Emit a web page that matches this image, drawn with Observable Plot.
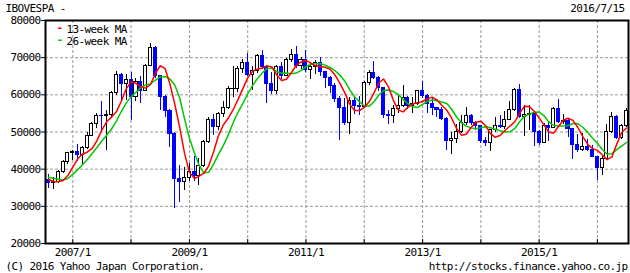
<!DOCTYPE html>
<html><head><meta charset="utf-8">
<script src="https://cdn.jsdelivr.net/npm/d3@7"></script>
<script src="https://cdn.jsdelivr.net/npm/@observablehq/plot@0.6"></script>
<style>body{margin:0;background:#fff} svg{display:block}</style>
</head><body><div id="chart"></div>
<script>
// Monthly candles, Aug 2006 .. Jul 2016 (to 2016/7/15)
const firstMonth = [2006, 7]; // year, month index (Aug)
const monthCount = 120;
const open = [37077,36232,36449,39262,41932,
 44473,44642,43892,45804,48956,52268,54392,54182,54637,60465,65317,63006,
 63886,59490,63489,60968,67868,72593,65017,59505,55680,49541,37257,36596,
 37550,39301,38183,40926,47290,53198,51465,54766,56489,61518,61546,67044,
 68588,65402,66503,70372,67530,63046,60936,67515,65145,69430,70673,67705,
 69305,66575,67383,68587,66133,64620,62404,58823,56495,52324,58338,56875,
 56754,63072,65812,64511,61820,54490,54355,56097,57061,59176,57068,57475,
 60952,59761,57424,56352,55910,53506,47457,48234,50008,52338,54256,52482,
 51507,47639,47094,50415,51627,51239,53168,55829,61288,54116,54629,54724,
 50007,46908,51583,51150,56229,52760,53081,50865,46626,45059,45869,45120,
 43350,40406,42794,50055,53911,48472,51527];
const high = [38500,37800,39600,42300,44600,
 45000,46600,46100,49800,52500,55000,58300,55900,60800,66400,65800,65500,
 66000,64300,65000,68100,73900,73000,65300,59900,56000,50000,41100,40500,
 41500,43500,42900,47800,53800,54800,55200,58300,62200,67500,67600,69500,
 71000,67500,70800,71900,68000,65900,67900,68800,69800,72200,73100,70000,
 72000,68400,69300,70000,66200,64900,63000,59600,59000,59400,59500,59600,
 63500,66600,69100,64900,62000,55800,57000,60000,62600,59500,59400,61300,
 63500,60000,59400,56700,56700,53800,49800,52100,54500,56700,54800,52800,
 51800,48600,50600,53800,54500,55400,58100,61600,62700,57200,57200,55000,
 50500,52300,52700,56600,58700,54800,53500,51000,49300,49500,48000,46500,
 43500,43400,52100,55200,54500,52100,56200];
const low = [34800,34500,36200,38900,41200,
 42300,42000,41200,45200,48700,51000,50500,45000,53600,59700,58100,58600,
 53000,58200,57700,60800,67500,64500,55900,54000,45900,29400,31000,34200,
 36800,36800,35700,40500,47000,49100,50500,54000,56000,59400,60500,65700,
 64800,61300,65800,66800,57700,60200,60000,64000,64800,68800,67000,66800,
 66000,64200,65400,65000,61800,60300,58000,47800,51800,49400,54600,54500,
 56400,62600,64000,60800,53700,52100,52400,55100,56600,56000,55000,57000,
 59000,55000,54500,53800,53000,45000,44000,47000,49600,51800,51800,50500,
 46800,46000,44700,50000,51000,50800,53000,55500,53500,48700,50500,46000,
 46500,46800,47500,50900,52400,52000,48500,42600,44400,44800,44800,43100,
 37000,38400,42500,49600,48000,48000,51300];
const close = [36232,36449,39262,41932,44473,
 44642,43892,45804,48956,52268,54392,54182,54637,60465,65317,63006,63886,
 59490,63489,60968,67868,72593,65017,59505,55680,49541,37257,36596,37550,
 39301,38183,40926,47290,53198,51465,54766,56489,61518,61546,67044,68588,
 65402,66503,70372,67530,63046,60936,67515,65145,69430,70673,67705,69305,
 66575,67383,68587,66133,64620,62404,58823,56495,52324,58338,56875,56754,
 63072,65812,64511,61820,54490,54355,56097,57061,59176,57068,57475,60952,
 59761,57424,56352,55910,53506,47457,48234,50008,52338,54256,52482,51507,
 47639,47094,50415,51627,51239,53168,55829,61288,54116,54629,54724,50007,
 46908,51583,51150,56229,52760,53081,50865,46626,45059,45869,45120,43350,
 40406,42794,50055,53911,48472,51527,55578];
// 13-week and 26-week moving averages, read at each candle
const ma13 = [37230,36700,36620,36950,38270,40550,42790,44010,44560,45500,
 47610,50440,52740,54010,55420,58280,61540,63500,63100,62210,
 61800,62710,65630,67820,67100,62890,57490,51200,44310,39130,
 37480,38080,38910,40800,44640,48900,51900,53690,55920,58720,
 61610,64550,66370,66920,67130,67780,67560,65410,63840,64180,
 65950,67890,68840,69250,68550,67810,67640,67440,66910,65420,
 63170,60600,57560,55800,55780,56580,58110,60390,63170,64260,
 62160,58580,55940,55410,56640,57610,57840,58200,58950,59390,
 58610,57200,55910,53770,51010,49150,49380,51200,52610,52890,
 51650,49650,48570,49050,50400,51550,52710,55090,56920,56880,
 55580,53810,51830,50020,49690,51430,53180,53700,53130,51210,
 48850,46680,45600,45070,43870,42570,43300,46670,49870,51060];
const ma26 = [37800,37550,37270,37090,37480,38590,39870,41140,42560,44140,
 45810,47500,49120,50810,52930,55510,57770,59460,60690,61870,
 62650,62910,63920,64810,64910,64260,62650,59150,53600,48310,
 44340,41200,39020,39140,41360,43900,46350,49160,52410,55310,
 57650,60230,62550,64270,65840,67080,67240,66270,65810,65870,
 65680,65860,66510,67600,68220,68330,68440,67990,67360,66530,
 65310,63750,61490,59480,58190,57070,56960,58090,59880,61190,
 61280,60880,60100,58790,57610,56770,56620,57420,58280,58610,
 58410,58080,57650,56190,54110,52530,51580,51110,50880,51130,
 51420,51130,50730,50350,50020,50060,50880,52750,54240,54800,
 55340,55360,54360,52800,51750,51630,51600,51700,52280,52200,
 51280,49910,48410,46960,45280,44090,44180,45270,46220,47180];
const yTicks = [20000,30000,40000,50000,60000,70000,80000];
const gridYears = [2007,2008,2009,2010,2011,2012,2013,2014,2015,2016];
const labelYears = [2007,2009,2011,2013,2015];
const titleText = "IBOVESPA -";
const dateText = "2016/7/15";
const leftFoot = "(C) 2016 Yahoo Japan Corporation.";
const rightFoot = "http://stocks.finance.yahoo.co.jp";
const legend = ["13-week MA", "26-week MA"];

const months = d3.utcMonth.range(new Date(Date.UTC(firstMonth[0], firstMonth[1], 1)),
  new Date(Date.UTC(firstMonth[0], firstMonth[1] + monthCount, 1)));
const rows = months.map((date, i) => ({date, o: open[i], h: high[i], l: low[i], c: close[i],
  m13: ma13[i], m26: ma26[i], up: close[i] >= open[i]}));
const ups = rows.filter(d => d.up), downs = rows.filter(d => !d.up);
const yearDate = y => new Date(Date.UTC(y, 0, 1));
const HALF = 15.2 * 864e5;
const bx1 = d => new Date(+d.date - HALF), bx2 = d => new Date(+d.date + HALF);
const bodyTop = d => Math.max(d.o, d.c), bodyBot = d => Math.min(d.o, d.c);
const BLUE = "#0000ff", RED = "#ff0000", GREEN = "#00c800";
const FONT = "'DejaVu Sans Mono', monospace";
const txt = {fill: "#000", fontSize: 11, fontFamily: FONT, lineAnchor: "bottom"};
const yMin = yTicks[0];

const chart = Plot.plot({
  width: 630, height: 273,
  marginLeft: 45, marginRight: 2, marginTop: 20, marginBottom: 30,
  style: {fontFamily: FONT, fontSize: "11px", color: "#000", background: "#fff", letterSpacing: "-0.6px", overflow: "visible"},
  x: {type: "utc", domain: [new Date(Date.UTC(2006, 6, 14)), new Date(Date.UTC(2016, 6, 14))], label: null},
  y: {domain: [20000, 80000], label: null},
  marks: [
    Plot.gridY(yTicks, {stroke: "#999", strokeOpacity: 1, strokeDasharray: "3,2"}),
    Plot.gridX(gridYears.map(yearDate), {stroke: "#999", strokeOpacity: 1, strokeDasharray: "3,2"}),
    Plot.ruleX(ups, {x: "date", y1: "l", y2: "h", stroke: "#000", strokeWidth: 1, shapeRendering: "crispEdges"}),
    Plot.ruleX(downs, {x: "date", y1: "l", y2: "h", stroke: BLUE, strokeWidth: 1, shapeRendering: "crispEdges"}),
    Plot.rect(ups, {x1: bx1, x2: bx2, y1: bodyTop, y2: bodyBot, fill: "#000", insetLeft: 0.4, insetRight: 0.4, insetTop: -0.5, insetBottom: -0.5, shapeRendering: "crispEdges"}),
    Plot.rect(ups, {x1: bx1, x2: bx2, y1: bodyTop, y2: bodyBot, fill: "#fff", insetLeft: 1.4, insetRight: 1.4, insetTop: 0.5, insetBottom: 0.5, shapeRendering: "crispEdges"}),
    Plot.rect(downs, {x1: bx1, x2: bx2, y1: bodyTop, y2: bodyBot, fill: BLUE, insetLeft: 0.4, insetRight: 0.4, insetTop: -0.5, insetBottom: -0.5, shapeRendering: "crispEdges"}),
    Plot.line(rows, {x: "date", y: "m26", stroke: GREEN, strokeWidth: 1.5}),
    Plot.line(rows, {x: "date", y: "m13", stroke: RED, strokeWidth: 1.5}),
    Plot.frame({stroke: "#000", strokeWidth: 2}),
    Plot.axisY(yTicks, {tickSize: 4, tickPadding: 1, tickFormat: d => String(d), label: null, fill: "#000", stroke: "#000"}),
    Plot.axisX(labelYears.map(yearDate), {tickSize: 0, tickPadding: 5, tickFormat: d => `${d.getUTCFullYear()}/1`, label: null, fill: "#000"}),
    // small inner year ticks on the bottom axis
    Plot.ruleX(gridYears.map(yearDate), {x: d => d, y1: yMin, y2: yMin, insetTop: -4, stroke: "#000", strokeWidth: 1}),
    // legend
    Plot.text([legend[0]], {...txt, frameAnchor: "top-left", textAnchor: "start", dx: 21, dy: 12, text: d => d}),
    Plot.text([legend[1]], {...txt, frameAnchor: "top-left", textAnchor: "start", dx: 21, dy: 24, text: d => d}),
    Plot.text(["-"], {...txt, fill: RED, fontWeight: "bold", frameAnchor: "top-left", textAnchor: "start", dx: 11, dy: 10.5, text: d => d}),
    Plot.text(["-"], {...txt, fill: GREEN, fontWeight: "bold", frameAnchor: "top-left", textAnchor: "start", dx: 11, dy: 22.5, text: d => d}),
    // title / footer
    Plot.text([titleText], {...txt, frameAnchor: "top-left", textAnchor: "start", dx: -40, dy: -8.5, text: d => d}),
    Plot.text([dateText], {...txt, frameAnchor: "top-right", textAnchor: "end", dx: -4, dy: -8.5, text: d => d}),
    Plot.text([leftFoot], {...txt, frameAnchor: "bottom-left", textAnchor: "start", dx: -40, dy: 26, text: d => d}),
    Plot.text([rightFoot], {...txt, frameAnchor: "bottom-right", textAnchor: "end", dx: -1, dy: 26, text: d => d})
  ]
});
document.getElementById("chart").appendChild(chart);
</script>
</body></html>
